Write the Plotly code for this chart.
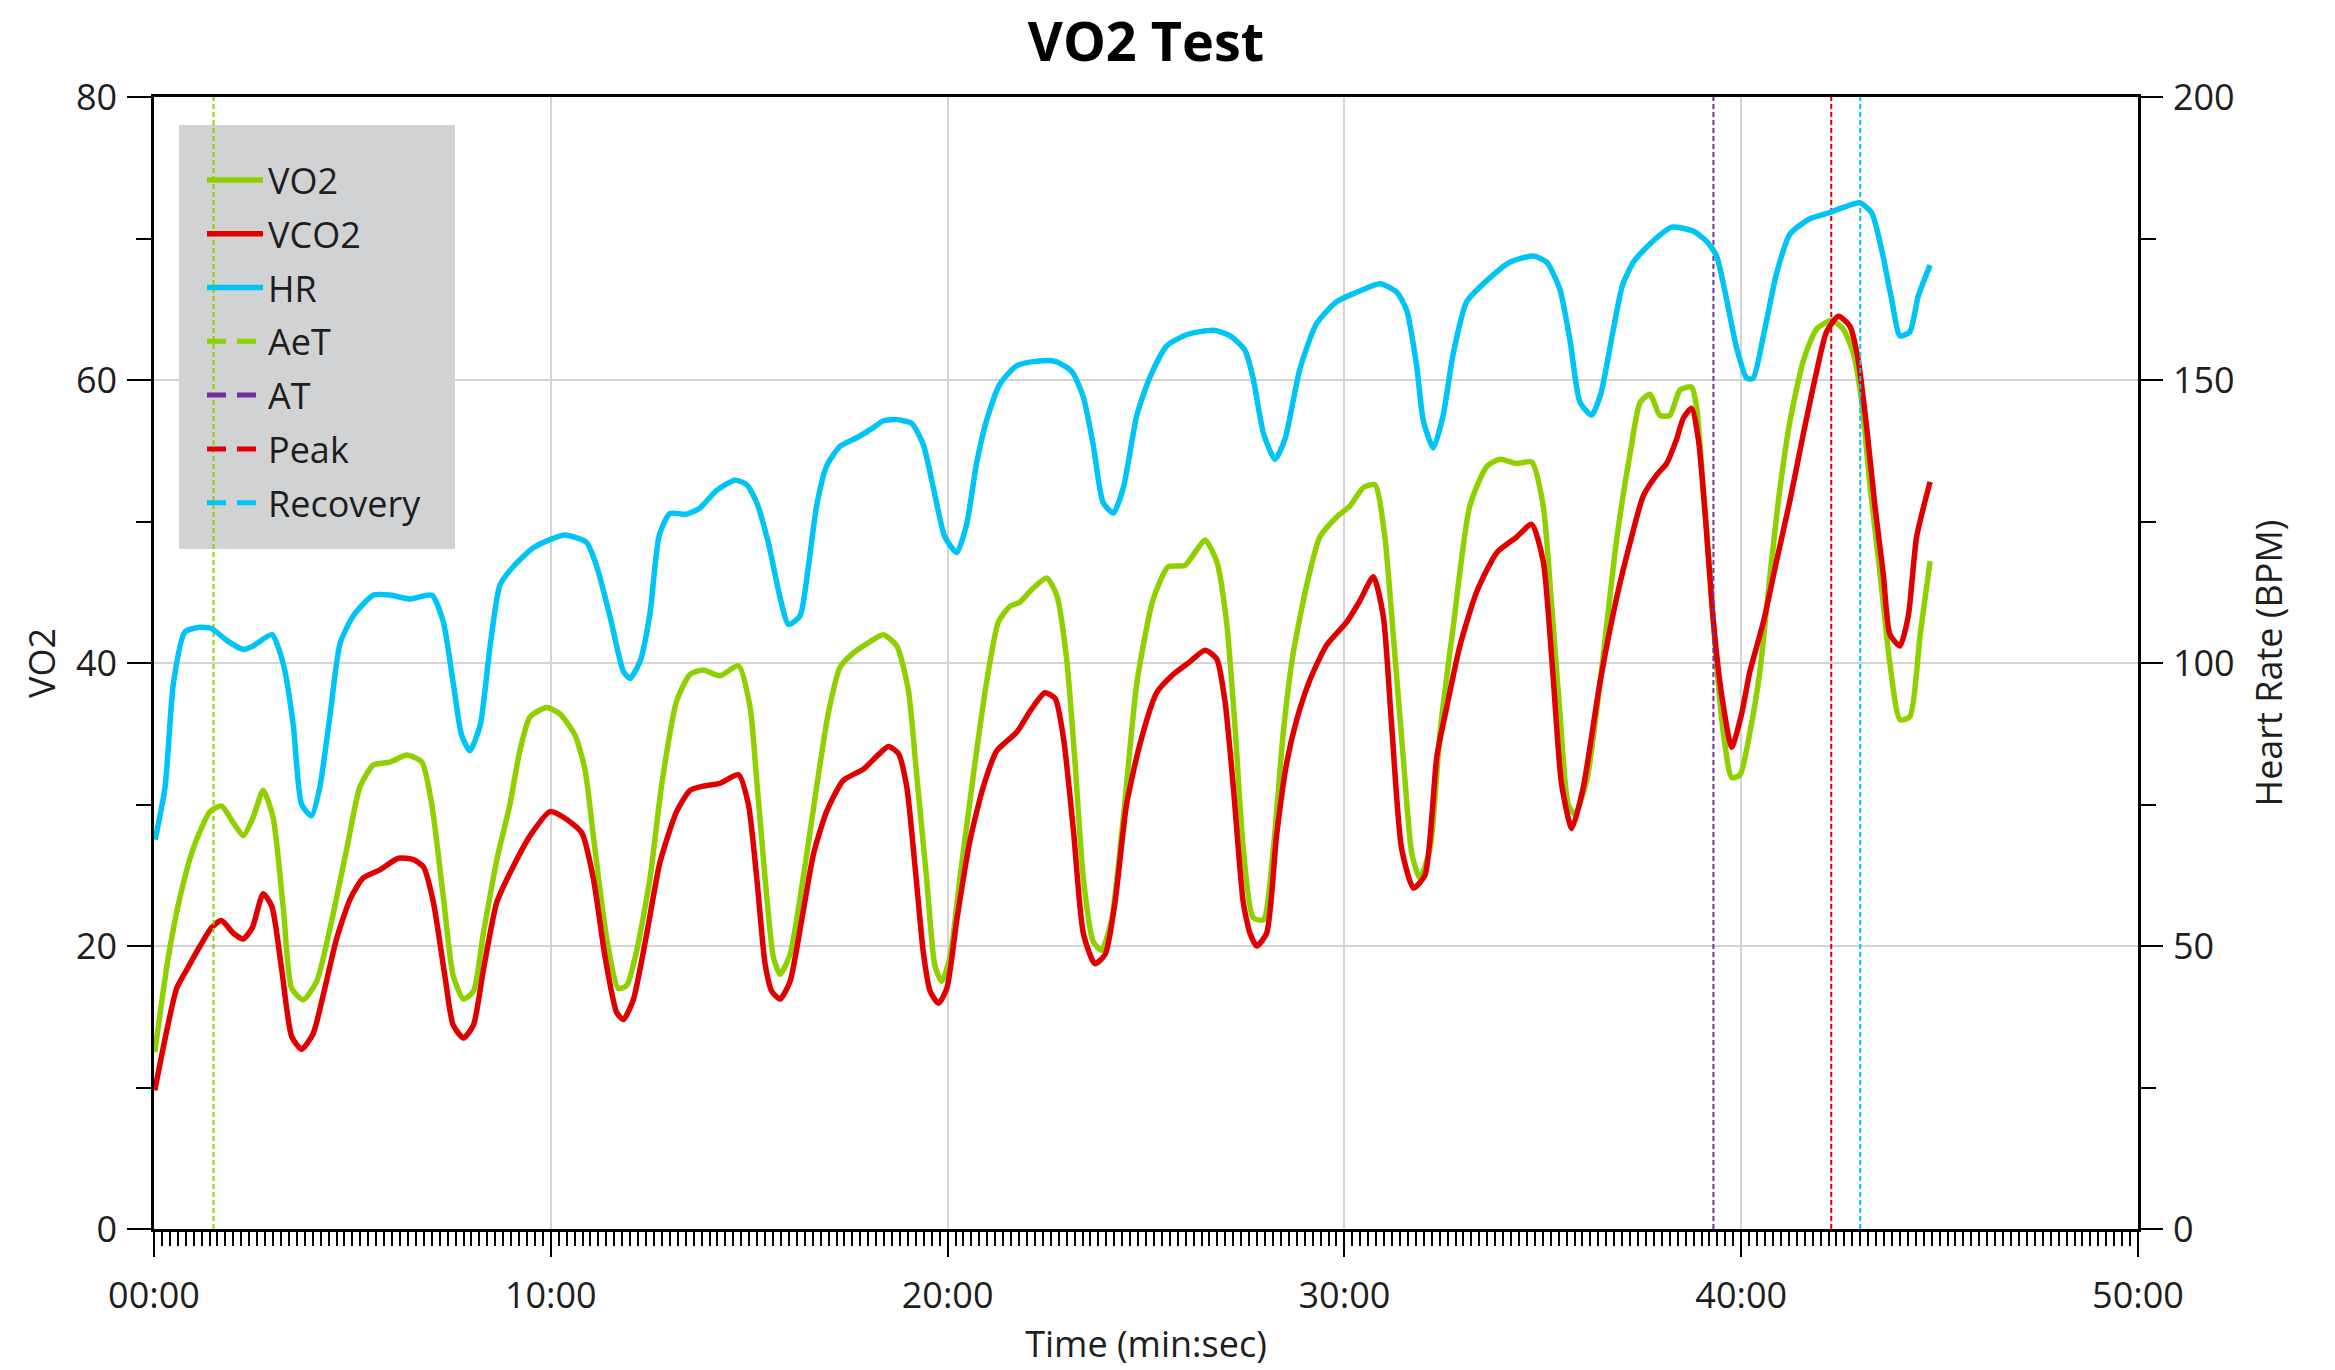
import plotly.graph_objects as go

# ---------------- data ----------------
t_vo2 = [0.02, 0.36, 0.66, 0.99, 1.41, 1.7, 2.0, 2.25, 2.5, 2.75, 3.0, 3.26, 3.47, 3.76, 4.1, 4.44,
         4.86, 5.19, 5.53, 5.95, 6.37, 6.75, 7.0, 7.29, 7.54, 7.8, 8.05, 8.3, 8.64, 8.97, 9.22, 9.48,
         9.9, 10.23, 10.61, 10.86, 11.11, 11.41, 11.7, 11.91, 12.16, 12.5, 12.8, 13.17, 13.51, 13.84,
         14.26, 14.73, 15.02, 15.19, 15.4, 15.61, 15.78, 16.03, 16.36, 16.7, 16.99, 17.29, 17.62, 18.04,
         18.38, 18.72, 19.01, 19.22, 19.47, 19.68, 19.85, 20.06, 20.31, 20.65, 20.98, 21.28, 21.57,
         21.82, 22.16, 22.5, 22.75, 23.0, 23.21, 23.42, 23.67, 23.88, 24.13, 24.43, 24.77, 25.18, 25.56,
         25.98, 26.28, 26.49, 26.78, 27.03, 27.24, 27.45, 27.7, 27.96, 28.21, 28.46, 28.71, 29.05,
         29.38, 29.8, 30.14, 30.48, 30.77, 31.02, 31.23, 31.48, 31.7, 31.9, 32.16, 32.41, 32.74, 33.16,
         33.59, 33.92, 34.34, 34.72, 35.01, 35.22, 35.43, 35.64, 35.81, 36.11, 36.44, 36.86, 37.2,
         37.45, 37.7, 37.95, 38.2, 38.46, 38.75, 38.88, 39.04, 39.21, 39.38, 39.55, 39.76, 39.97,
         40.22, 40.47, 40.73, 40.98, 41.23, 41.57, 41.9, 42.28, 42.57, 42.83, 43.04, 43.25, 43.5,
         43.75, 44.0, 44.25, 44.51, 44.76]
vo2 = [12.5, 19.2, 23.5, 26.9, 29.5, 29.9, 28.7, 27.8, 29.1, 31.0, 29.1, 22.6, 17.0, 16.2, 17.5, 21.3,
       26.9, 31.25, 32.8, 33.0, 33.5, 33.0, 30.0, 23.5, 17.9, 16.25, 16.8, 20.9, 26.1, 30.0, 33.8, 36.2,
       36.85, 36.4, 34.9, 32.5, 26.9, 20.5, 17.0, 17.2, 19.6, 24.8, 31.5, 37.3, 39.2, 39.5,
       39.1, 39.8, 36.9, 31.7, 24.8, 19.2, 18.0, 19.4, 24.8, 31.25, 36.4, 39.7, 40.7, 41.5,
       42.0, 41.2, 38.1, 32.1, 24.8, 18.6, 17.5, 19.2, 24.8, 32.1, 38.6, 42.9, 44.0,
       44.3, 45.3, 46.0, 44.8, 40.3, 33.0, 24.8, 20.3, 19.7, 21.8, 29.1, 38.6, 44.5, 46.8,
       46.9, 48.0, 48.7, 47.2, 42.9, 35.6, 26.9, 22.0, 21.85, 26.9, 35.1, 40.7, 45.5,
       48.9, 50.3, 51.1, 52.4, 52.6, 48.9, 42.0, 33.4, 26.5, 24.8, 26.9, 35.1, 42.5, 51.1,
       53.9, 54.4, 54.1, 54.2, 51.1, 44.2, 36.5, 30.0, 29.3, 31.7, 38.5, 48.7, 54.8,
       58.4, 59.0, 57.5, 57.5, 59.3, 59.5, 58.0, 52.4, 46.3, 39.9, 35.1, 31.9, 32.1,
       35.1, 39.4, 46.3, 52.4, 57.1, 61.4, 63.6, 64.2, 63.6, 61.85, 58.4, 52.4, 46.3,
       39.9, 36.0, 36.2, 42.0, 47.2]

t_vco2 = [0.02, 0.32, 0.57, 0.82, 1.16, 1.45, 1.7, 2.0, 2.25, 2.48, 2.75, 2.97, 3.22, 3.47, 3.72, 4.01,
          4.27, 4.6, 4.94, 5.27, 5.7, 6.16, 6.54, 6.79, 7.04, 7.33, 7.54, 7.8, 8.05, 8.3, 8.64, 9.05,
          9.48, 9.98, 10.32, 10.78, 11.07, 11.37, 11.66, 11.83, 12.08, 12.42, 12.75, 13.17, 13.51,
          13.84, 14.26, 14.73, 14.98, 15.19, 15.4, 15.57, 15.78, 16.03, 16.32, 16.62, 16.95, 17.37,
          17.88, 18.21, 18.51, 18.76, 18.97, 19.18, 19.39, 19.56, 19.77, 19.98, 20.23, 20.56, 20.9,
          21.24, 21.74, 22.08, 22.45, 22.71, 22.92, 23.17, 23.42, 23.71, 23.97, 24.22, 24.51, 24.85,
          25.27, 25.69, 26.11, 26.49, 26.78, 26.99, 27.2, 27.45, 27.62, 27.79, 28.04, 28.29, 28.55,
          28.8, 29.13, 29.55, 30.06, 30.39, 30.73, 30.98, 31.19, 31.44, 31.74, 32.03, 32.33, 32.58,
          32.91, 33.33, 33.84, 34.34, 34.72, 35.01, 35.26, 35.47, 35.73, 36.02, 36.44, 36.86, 37.2,
          37.53, 37.87, 38.12, 38.37, 38.54, 38.75, 38.92, 39.09, 39.3, 39.51, 39.76, 40.01, 40.22,
          40.56, 40.89, 41.23, 41.57, 41.9, 42.15, 42.45, 42.74, 42.95, 43.16, 43.37, 43.58, 43.75,
          44.0, 44.21, 44.42, 44.76]
vco2 = [9.8, 14.0, 17.0, 18.3, 20.0, 21.3, 21.8, 20.9, 20.5, 21.3, 23.7, 22.8, 18.3, 13.6, 12.7, 13.8,
        16.6, 20.5, 23.3, 24.8, 25.4, 26.2, 26.1, 25.6, 23.1, 17.9, 14.4, 13.5, 14.4, 18.3, 23.1, 25.6,
        27.8, 29.5, 29.1, 28.0, 24.8, 19.2, 15.3, 14.8, 16.2, 20.9, 25.9, 29.5, 31.0,
        31.3, 31.5, 32.1, 30.0, 24.8, 18.75, 16.8, 16.25, 17.5, 21.8, 26.5, 29.5, 31.7,
        32.5, 33.4, 34.1, 33.6, 31.25, 25.6, 19.5, 16.8, 15.95, 17.0, 21.8, 27.4, 31.25,
        33.8, 35.1, 36.6, 37.9, 37.5, 34.7, 28.2, 20.9, 18.75, 19.4, 23.1, 30.0, 34.3,
        37.9, 39.2, 40.1, 40.9, 40.3, 37.3, 31.25, 23.1, 20.9, 20.0, 20.9, 27.8, 33.0,
        36.0, 38.8, 41.25, 42.9, 44.4, 46.1, 43.3, 35.6, 26.9, 24.1, 25.0, 33.4, 36.9,
        41.2, 45.0, 47.8, 48.9, 49.8, 47.2, 39.0, 31.5, 28.3, 31.2, 38.6, 44.6, 48.5,
        51.8, 53.3, 54.1, 55.8, 57.3, 58.0, 55.8, 50.6, 42.9, 37.7, 34.05, 36.4, 39.4,
        42.9, 47.2, 51.5, 56.25, 60.6, 63.4, 64.5, 63.8, 61.4, 56.7, 51.1, 46.3, 42.0,
        41.2, 43.3, 48.9, 52.8]

t_hr = [0.03, 0.28, 0.49, 0.78, 1.16, 1.45, 1.83, 2.25, 2.5, 2.97, 3.26, 3.51, 3.72, 3.97, 4.18, 4.44,
        4.69, 5.02, 5.53, 5.95, 6.45, 7.0, 7.29, 7.54, 7.75, 7.96, 8.22, 8.47, 8.72, 9.05, 9.55, 9.98,
        10.36, 10.9, 11.16, 11.49, 11.83, 12.0, 12.25, 12.5, 12.73, 13.0, 13.42, 13.76, 14.18, 14.64,
        14.94, 15.19, 15.48, 15.78, 15.99, 16.28, 16.49, 16.7, 16.95, 17.29, 17.71, 18.09, 18.38,
        18.72, 19.1, 19.39, 19.64, 19.93, 20.23, 20.48, 20.73, 20.98, 21.32, 21.74, 22.24, 22.71,
        23.13, 23.42, 23.67, 23.92, 24.18, 24.43, 24.77, 25.1, 25.52, 26.02, 26.7, 27.12, 27.49,
        27.7, 27.96, 28.25, 28.5, 28.88, 29.3, 29.8, 30.31, 30.9, 31.32, 31.57, 31.82, 31.99, 32.24,
        32.49, 32.74, 33.08, 33.58, 34.17, 34.76, 35.1, 35.43, 35.69, 35.94, 36.23, 36.46, 36.76,
        37.01, 37.3, 37.74, 38.25, 38.79, 39.13, 39.38, 39.63, 39.88, 40.14, 40.3, 40.56, 40.89,
        41.23, 41.73, 42.24, 42.57, 42.99, 43.29, 43.54, 43.79, 44.0, 44.25, 44.46, 44.76]
hr = [68.8, 78.1, 96.5, 105.5, 106.3, 106.1, 104.0, 102.4, 103.0, 105.0, 99.8, 89.0, 75.0, 73.0, 78.1, 91.0,
      103.5, 108.3, 112.0, 112.0, 111.3, 112.0, 107.3, 96.5, 87.3, 84.5, 89.0, 103.0, 113.8, 117.0, 120.3, 121.8,
      122.6, 121.3, 117.0, 108.3, 98.5, 97.3, 100.3, 108.8, 122.5, 126.4, 126.3, 127.4, 130.5, 132.3,
      131.5, 128.3, 121.3, 111.5, 106.8, 108.3, 117.0, 127.8, 134.8, 138.3, 139.8, 141.4, 142.8,
      143.0, 142.3, 138.5, 131.0, 122.3, 119.5, 124.5, 135.3, 142.8, 149.3, 152.5, 153.3, 153.3,
      151.5, 147.0, 138.5, 128.3, 126.5, 131.0, 143.8, 150.5, 156.0, 158.0, 158.8, 157.8, 155.3,
      150.3, 140.6, 136.0, 139.5, 152.0, 160.0, 163.8, 165.5, 167.0, 165.5, 162.3, 152.5, 142.8, 138.0,
      143.8, 154.6, 163.8, 167.5, 170.8, 171.9, 170.8, 166.0, 156.8, 146.0, 143.8, 147.5, 158.3,
      166.8, 171.0, 174.3, 177.0, 176.3, 174.5, 171.9, 164.3, 155.8, 150.3, 150.3, 157.8, 168.8,
      175.8, 178.5, 179.6, 180.5, 181.3, 179.5, 173.0, 164.3, 157.8, 158.5, 164.8, 170.3]

marker_names = ["AeT", "AT", "Peak", "Recovery"]
marker_times = [1.5, 39.3, 42.27, 43.0]

x_tickvals = [0, 10, 20, 30, 40, 50]
x_ticktext = ["00:00", "10:00", "20:00", "30:00", "40:00", "50:00"]

# ---------------- style ----------------
C_VO2 = "#8fd000"
C_VCO2 = "#e00000"
C_HR = "#00c4f4"
marker_colors = {"AeT": C_VO2, "AT": "#7030a0", "Peak": C_VCO2, "Recovery": C_HR}
FONT = "Open Sans, Noto Sans, sans-serif"
TXT = "#1e1e1e"
W, H = 2335, 1370
ML, MR, MT, MB = 154, 197, 97, 141

fig = go.Figure()

series = [("VO2", t_vo2, vo2, C_VO2, "y"), ("VCO2", t_vco2, vco2, C_VCO2, "y"),
          ("HR", t_hr, hr, C_HR, "y2")]
for name, tx, vy, col, ax in series:
    fig.add_trace(go.Scatter(x=tx, y=vy, name=name, mode="lines", yaxis=ax,
                             legendgroup=name,
                             line=dict(color=col, width=5.5, shape="spline", smoothing=0.6)))

# vertical event markers (thin dashed) + legend proxies (thick dashed)
for name, tm in zip(marker_names, marker_times):
    fig.add_trace(go.Scatter(x=[tm, tm], y=[0, 80], mode="lines", showlegend=False,
                             hoverinfo="skip",
                             line=dict(color=marker_colors[name], width=2, dash="5px,3px")))
for name in marker_names:
    fig.add_trace(go.Scatter(x=[None], y=[None], mode="lines", name=name, legendgroup=name,
                             line=dict(color=marker_colors[name], width=5, dash="19px,11px")))

pw = W - ML - MR
ph = H - MT - MB
def px_x(p):
    return (p - ML) / pw
def px_y(p):
    return 1 - (p - MT) / ph

# legend background box
fig.add_shape(type="rect", xref="paper", yref="paper", layer="below",
              x0=px_x(179), x1=px_x(455), y0=px_y(549), y1=px_y(125),
              fillcolor="#d1d2d4", line=dict(width=0))

axis_common = dict(showline=True, linecolor="black", linewidth=2.5, ticks="outside",
                   tickcolor="black", tickwidth=2, zeroline=False,
                   tickfont=dict(family=FONT, size=36, color=TXT),
                   title_font=dict(family=FONT, size=36, color=TXT))

fig.update_layout(
    width=W, height=H, autosize=False,
    margin=dict(l=ML, r=MR, t=MT, b=MB),
    paper_bgcolor="white", plot_bgcolor="white",
    font=dict(family=FONT, size=36, color=TXT),
    title=dict(text="<b>VO2 Test</b>", x=1146 / W, xanchor="center",
               xref="container", yref="container", y=1 - 42 / H, yanchor="middle",
               font=dict(family=FONT, size=54, color="black")),
    showlegend=True,
    legend=dict(x=px_x(202), y=px_y(150), xanchor="left", yanchor="top",
                bgcolor="rgba(0,0,0,0)", borderwidth=0, tracegroupgap=4,
                itemwidth=56, font=dict(family=FONT, size=36, color=TXT)),
    xaxis=dict(range=[0, 50], tickmode="array", tickvals=x_tickvals, ticktext=x_ticktext,
               ticklen=25, mirror=True, showgrid=True, gridcolor="#d4d4d4", gridwidth=2,
               minor=dict(tick0=0, dtick=0.2, ticks="outside", ticklen=14, tickwidth=2,
                          tickcolor="black", showgrid=False),
               title=dict(text="Time (min:sec)", standoff=14), ticklabelstandoff=8,
               **axis_common),
    yaxis=dict(range=[0, 80], dtick=20, tick0=0, ticklen=24, showgrid=True,
               gridcolor="#d4d4d4", gridwidth=2,
               minor=dict(dtick=10, tick0=0, ticks="outside", ticklen=15, tickwidth=2,
                          tickcolor="black", showgrid=False),
               title=dict(text="VO2", standoff=10), ticklabelstandoff=3, **axis_common),
    yaxis2=dict(range=[0, 200], dtick=50, tick0=0, ticklen=22, overlaying="y", side="right",
                showgrid=False,
                minor=dict(dtick=25, tick0=0, ticks="outside", ticklen=15, tickwidth=2,
                           tickcolor="black", showgrid=False),
                title=dict(text="Heart Rate (BPM)", standoff=24), ticklabelstandoff=3,
                **axis_common),
)

fig.write_html("out.html")
